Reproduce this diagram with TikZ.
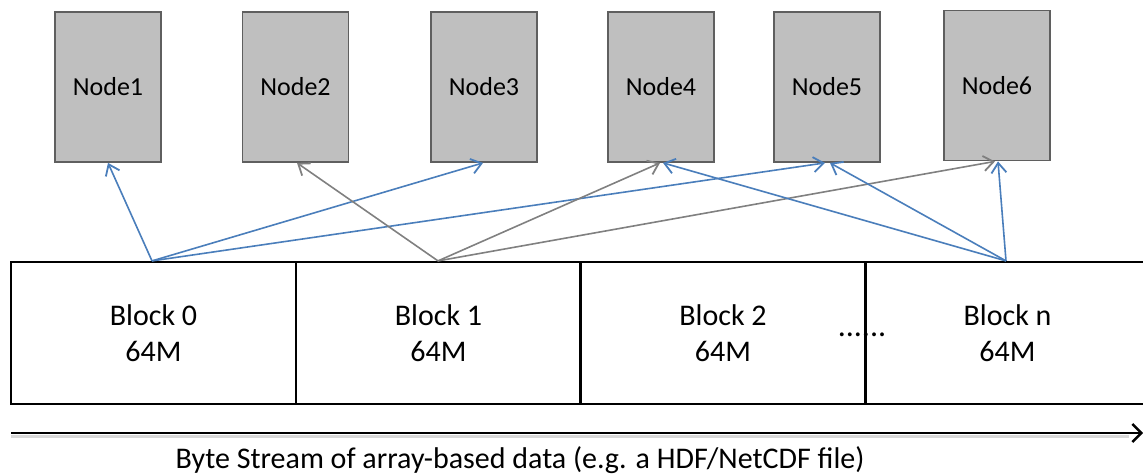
\documentclass[tikz,border=0pt]{standalone}
\usepackage{fontspec}
\setmainfont{Carlito}
\usetikzlibrary{arrows.meta}
\definecolor{linkblue}{HTML}{4A7EBB}
\definecolor{linkgray}{HTML}{808080}
\definecolor{boxfill}{HTML}{BFBFBF}
\definecolor{boxedge}{HTML}{5F5F5F}
\tikzset{
  compnode/.style={draw=boxedge, fill=boxfill, line width=1.8pt, minimum width=106pt,
    minimum height=150pt, inner sep=0pt, font=\fontsize{26}{30}\selectfont},
  blockbox/.style={draw=black, line width=2.2pt, minimum width=285pt, minimum height=142pt,
    inner sep=0pt, align=center, font=\fontsize{30}{36}\selectfont},
  tip/.style={-{Straight Barb[length=10pt,width=15pt,line width=1.8pt]}},
  bluelink/.style={draw=linkblue, line width=1.6pt, tip},
  graylink/.style={draw=linkgray, line width=1.6pt, tip},
}
\begin{document}
\begin{tikzpicture}[x=1pt,y=-1pt]
\useasboundingbox (0,0) rectangle (1143,474);

% compute nodes
\node[compnode] (n1) at (108,87) {Node1};
\node[compnode] (n2) at (295.5,87) {Node2};
\node[compnode] (n3) at (484,87) {Node3};
\node[compnode] (n4) at (661,87) {Node4};
\node[compnode] (n5) at (827,87) {Node5};
\node[compnode] (n6) at (997,85.5) {Node6};

% data blocks
\node[blockbox] (b0) at (153.5,333) {Block 0\\64M};
\node[blockbox] (b1) at (438.5,333) {Block 1\\64M};
\node[blockbox] (b2) at (723,333) {Block 2\\64M};
\node[blockbox] (bn) at (1007.5,333) {Block n\\64M};
\node[font=\fontsize{32}{34}\selectfont, inner sep=0pt, anchor=base] (dots) at (862,336) {......};

% block-to-node assignments
\draw[bluelink] ([xshift=-1.5pt]b0.north) -- (n1.south);
\draw[bluelink] ([xshift=-1.5pt]b0.north) -- ([xshift=-1pt]n3.south);
\draw[bluelink] ([xshift=-1.5pt]b0.north) -- ([xshift=-2pt]n5.south);
\draw[graylink] ([xshift=-0.5pt]b1.north) -- ([xshift=1.5pt]n2.south);
\draw[graylink] ([xshift=-0.5pt]b1.north) -- ([xshift=-1pt]n4.south);
\draw[graylink] ([xshift=-0.5pt]b1.north) -- ([xshift=-2pt]n6.south);
\draw[bluelink] ([xshift=-1.5pt]bn.north) -- ([xshift=2pt]n4.south);
\draw[bluelink] ([xshift=-1.5pt]bn.north) -- ([xshift=3pt]n5.south);
\draw[bluelink] ([xshift=-1.5pt]bn.north) -- ([xshift=1pt]n6.south);

% byte stream axis
\coordinate (s0) at (11,433);
\coordinate (s1) at (1143,433);
\draw[black!15, line width=3pt] ([yshift=-3pt]s0) -- ([yshift=-3pt,xshift=-14pt]s1);
\draw[black, line width=2.6pt, -{Straight Barb[length=9pt,width=18pt,line width=2.4pt]}] (s0) -- (s1);
\node[font=\fontsize{30}{34}\selectfont, inner sep=0pt, anchor=base] (cap) at (520,468)
  {Byte Stream of array-based data (e.g. a HDF/NetCDF file)};
\end{tikzpicture}
\end{document}
